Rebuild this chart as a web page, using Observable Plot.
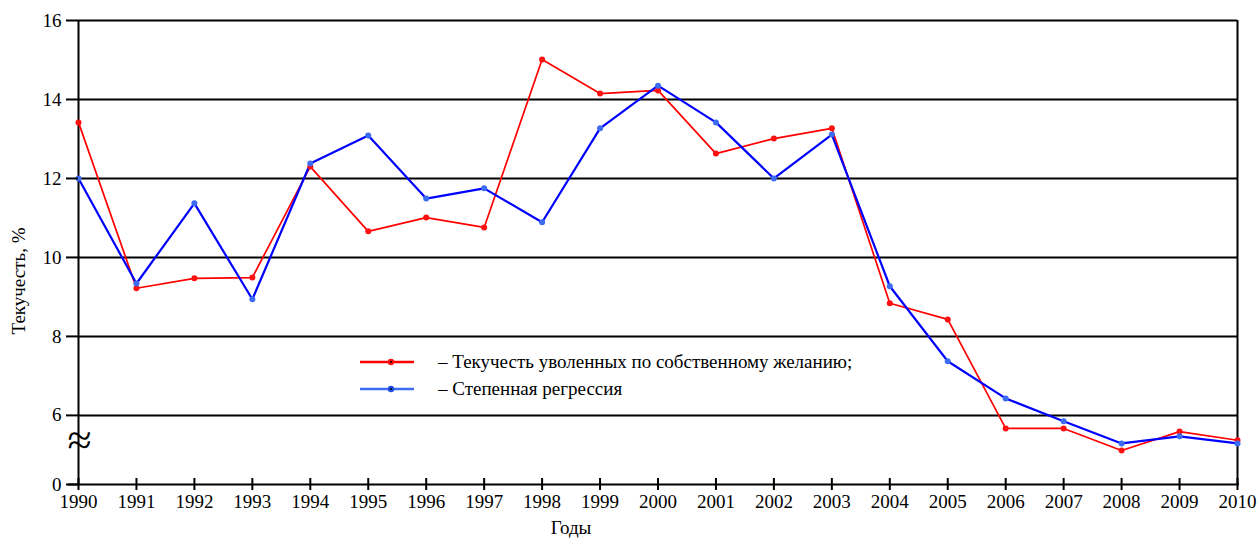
<!DOCTYPE html>
<html><head><meta charset="utf-8">
<script src="https://cdn.jsdelivr.net/npm/d3@7"></script>
<script src="https://cdn.jsdelivr.net/npm/@observablehq/plot@0.6"></script>
<style>
body{margin:0;background:#fff;font-family:'Times New Roman',Times,'Liberation Serif','Noto Serif','DejaVu Serif',serif;}
#wrap{position:relative;width:1259px;height:542px;}
#wrap svg{font-family:'Times New Roman',Times,'Liberation Serif','Noto Serif','DejaVu Serif',serif !important;}
#wrap svg text{font-family:'Times New Roman',Times,'Liberation Serif','Noto Serif','DejaVu Serif',serif !important;}
.legend{position:absolute;left:358px;top:348px;font-size:19px;color:#000;}
.legend .row{display:flex;align-items:center;height:27px;}
.legend svg{margin-right:22px;}
</style></head><body><div id="wrap"></div>
<script>
const years = [1990,1991,1992,1993,1994,1995,1996,1997,1998,1999,2000,2001,2002,2003,2004,2005,2006,2007,2008,2009,2010];
const turnover = [13.42,9.22,9.47,9.49,12.30,10.66,11.01,10.76,15.01,14.15,14.23,12.63,13.01,13.27,8.84,8.43,5.67,5.67,5.11,5.59,5.37];
const regression = [12.0,9.34,11.37,8.94,12.38,13.09,11.49,11.75,10.89,13.27,14.35,13.42,12.0,13.11,9.27,7.37,6.43,5.85,5.29,5.47,5.29];
const yBreak = 4.25; // axis is broken: bottom tick labelled 0
const yTicks = [yBreak,6,8,10,12,14,16];
const yTickLabels = ["0","6","8","10","12","14","16"];
const gridValues = [6,8,10,12,14,16];
const seriesNames = ["– Текучесть уволенных по собственному желанию;","– Степенная регрессия"];

const red = years.map((y,i)=>({year:y, v:turnover[i]}));
const blue = years.map((y,i)=>({year:y, v:regression[i]}));

const chart = Plot.plot({
  width:1259, height:542,
  marginLeft:78, marginRight:22, marginTop:20, marginBottom:58,
  style:{fontSize:"19px", background:"white", color:"black"},
  x:{domain:[1990,2010], label:null},
  y:{domain:[yBreak,16], label:null},
  marks:[
    Plot.gridY(gridValues,{stroke:"black", strokeOpacity:1, strokeWidth:2}),
    Plot.ruleY([yBreak],{stroke:"black", strokeWidth:2, insetLeft:-10, insetRight:-2}),
    Plot.ruleX([1990,2010],{stroke:"black", strokeWidth:2}),
    Plot.line(red,{x:"year", y:"v", stroke:"#ff0000", strokeWidth:1.7}),
    Plot.line(blue,{x:"year", y:"v", stroke:"#0000ff", strokeWidth:2.2}),
    Plot.dot(red,{x:"year", y:"v", r:3, fill:"#ff1010", stroke:null}),
    Plot.dot(blue,{x:"year", y:"v", r:3, fill:"#3b6cf2", stroke:null}),
    Plot.axisY({ticks:yTicks, tickFormat:(d,i)=>yTickLabels[i], tickSize:12, tickPadding:5, strokeWidth:2, label:null, fontSize:19}),
    Plot.axisX({ticks:years, tickFormat:()=>"", tickSize:12, dy:-6, strokeWidth:2, label:null}),
    Plot.axisX({ticks:years, tickFormat:d=>String(d), tickSize:0, tickPadding:10, label:null, fontSize:19}),
    Plot.text(["Текучесть, %"],{frameAnchor:"left", rotate:-90, dx:-60, dy:82, fontSize:19}),
    Plot.text(["Годы"],{frameAnchor:"bottom", dx:-87, dy:49, fontSize:19}),
    Plot.text(["≈"],{frameAnchor:"bottom-left", textAnchor:"middle", dy:-30, dx:1, fontSize:44})
  ]
});
const wrap = document.getElementById("wrap");
wrap.appendChild(chart);

const colors = [["#ff0000","#ff1010"],["#3b6cf2","#1f4fe0"]];
const leg = document.createElement("div");
leg.className = "legend";
seriesNames.forEach((name,i)=>{
  const row = document.createElement("div");
  row.className = "row";
  row.innerHTML = `<svg width="58" height="10"><line x1="2" x2="56" y1="5" y2="5" stroke="${colors[i][0]}" stroke-width="2.5"/><circle cx="33" cy="5" r="3.2" fill="${colors[i][1]}"/><circle cx="33" cy="5" r="1" fill="#000"/></svg><span>${name}</span>`;
  leg.appendChild(row);
});
wrap.appendChild(leg);
</script>
</body></html>
